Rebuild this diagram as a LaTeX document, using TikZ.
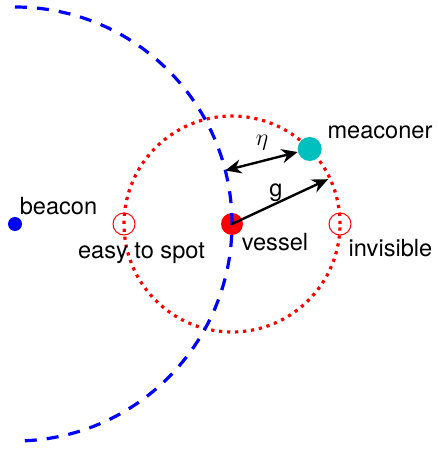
\documentclass[tikz,border=0pt]{standalone}
\usepackage{fontspec}
\setmainfont{TeX Gyre Heros}
\usetikzlibrary{arrows.meta, positioning, calc}
\definecolor{MeacCyan}{RGB}{0,191,191}
\begin{document}
\begin{tikzpicture}[x=0.5pt,y=0.5pt,
        dot/.style={circle,inner sep=0pt,draw=none},
        spot/.style={circle,draw=red,line width=0.5pt,minimum size=11pt,inner sep=0pt},
        lbl/.style={font=\fontsize{11.8}{14}\selectfont,inner sep=0pt},
        arr/.style={black,line width=1.2pt,-{Stealth[length=8pt,width=7pt]}},
        darr/.style={black,line width=1.2pt,{Stealth[length=8pt,width=7pt]}-{Stealth[length=8pt,width=7pt]}}]
        \useasboundingbox (-232,-225) rectangle (206,224);
        \coordinate (bc) at (-217,0);
        \draw[red,line width=1.6pt,dash pattern=on 1.6pt off 2.4pt] (0,0) circle[radius=108];
        \node[spot] (easy) at (-108,0) {};
        \node[spot] (invis) at (108,0) {};
        \node[dot,fill=MeacCyan,minimum size=12pt] (meac) at (44:108) {};
        \node[dot,fill=red,minimum size=11pt] (vessel) at (0,0) {};
        \node[dot,fill=blue,minimum size=7pt] (beacon) at (bc) {};
        \draw[blue,line width=1.6pt,dash pattern=on 6pt off 5pt]
          (bc) ++(0,217) arc[start angle=90,end angle=-90,radius=217];
        \coordinate (etaend) at ($(bc)!108.5pt!(meac)$);
        \coordinate (gend) at (25:106);
        \draw[darr] (etaend) -- (meac);
        \draw[arr] (vessel.center) -- (gend);
        \node[lbl] (etalbl) at (30,81) {$\eta$};
        \node[lbl] (glbl) at (44,31) {g};
        \node[lbl] (meaclbl) at (148,91.5) {meaconer};
        \node[lbl] (beaclbl) at (-173.5,17.5) {beacon};
        \node[lbl] (vesslbl) at (43,-18) {vessel};
        \node[lbl] (easylbl) at (-90.5,-29.5) {easy to spot};
        \node[lbl] (invislbl) at (158.5,-24.5) {invisible};
      \end{tikzpicture}
\end{document}
